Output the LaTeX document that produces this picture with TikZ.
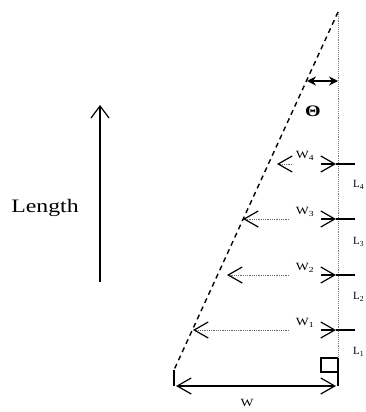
\documentclass[tikz,border=0pt]{standalone}
\usepackage{fontspec}
\setmainfont{Liberation Serif}
\usetikzlibrary{arrows.meta,calc,positioning}
\tikzstyle{wall} = [densely dotted, gray, line width=0.9pt]
\tikzstyle{slope} = [line width=1.4pt, dash pattern=on 5pt off 4pt]
\tikzstyle{barb} = [line width=1.2pt, -{Straight Barb[length=14pt,width=16pt]}]
\tikzstyle{wline} = [densely dotted, line width=0.8pt, gray!80!black, -{Straight Barb[length=14pt,width=16pt,black,line width=1.2pt]}]
\tikzstyle{tick} = [line width=1.1pt]
\tikzstyle{lbl} = [inner sep=0pt, font=\fontsize{11}{13}\selectfont]
\newcommand{\wide}[1]{\scalebox{1.25}[1]{#1}}

\begin{document}
\begin{tikzpicture}[x=1pt, y=-1pt]
      \useasboundingbox (0,0) rectangle (366,412);
      % frame of the blade
      \coordinate (top) at (338,12);
      \coordinate (sq) at (338,358);
      \coordinate (base) at (338,386);
      \coordinate (foot) at (174,370);
      \coordinate (corner) at (174,386);
      \draw[wall] (top) -- (sq);
      \draw[slope] (top) -- (foot);
      \draw[tick] (foot) -- (corner);
      \draw[tick] (sq) -- (base);
      \draw[tick] (sq) -- (321,358) -- (321,372) -- (338,372);
      % angle
      \coordinate (t1) at (307,81);
      \coordinate (t2) at (338,81);
      \draw[line width=1.8pt, {Stealth[length=9pt,width=9pt]}-{Stealth[length=9pt,width=9pt]}] (t1) -- (t2);
      \node (theta) at (313,111) {\fontsize{16}{18}\selectfont\wide{\textbf{Θ}}};
      % widths
      \node (w4) [lbl] at (305,156) {\wide{W\textsubscript{4}}};
      \node (w3) [lbl] at (305,212) {\wide{W\textsubscript{3}}};
      \node (w2) [lbl] at (305,268) {\wide{W\textsubscript{2}}};
      \node (w1) [lbl] at (305,323) {\wide{W\textsubscript{1}}};
      \coordinate (w4a) at (292,164); \coordinate (w4l) at (277,164);
      \coordinate (w3a) at (289,219); \coordinate (w3l) at (243,219);
      \coordinate (w2a) at (289,275); \coordinate (w2l) at (227,275);
      \coordinate (w1a) at (289,330); \coordinate (w1l) at (193,330);
      \coordinate (w4b) at (321,164); \coordinate (w4r) at (336,164);
      \coordinate (w3b) at (321,219); \coordinate (w3r) at (336,219);
      \coordinate (w2b) at (321,275); \coordinate (w2r) at (336,275);
      \coordinate (w1b) at (321,330); \coordinate (w1r) at (336,330);
      \draw[wline] (w4a) -- (w4l);
      \draw[wline] (w3a) -- (w3l);
      \draw[wline] (w2a) -- (w2l);
      \draw[wline] (w1a) -- (w1l);
      \draw[barb] (w4b) -- (w4r);
      \draw[barb] (w3b) -- (w3r);
      \draw[barb] (w2b) -- (w2r);
      \draw[barb] (w1b) -- (w1r);
      % length marks
      \draw[tick] (w4r) -- (355,164);
      \draw[tick] (w3r) -- (355,219);
      \draw[tick] (w2r) -- (355,275);
      \draw[tick] (w1r) -- (355,330);
      \node (l4) [lbl, anchor=west] at (353,185) {L\textsubscript{4}};
      \node (l3) [lbl, anchor=west] at (353,242) {L\textsubscript{3}};
      \node (l2) [lbl, anchor=west] at (353,297) {L\textsubscript{2}};
      \node (l1) [lbl, anchor=west] at (353,352) {L\textsubscript{1}};
      % base width
      \coordinate (wl) at (176,386);
      \coordinate (wr) at (336,386);
      \draw[line width=1.2pt, {Straight Barb[length=14pt,width=16pt]}-{Straight Barb[length=14pt,width=16pt]}] (wl) -- (wr);
      \node (w) [lbl] at (247,403) {\wide{W}};
      % length direction
      \coordinate (lo) at (100,282);
      \coordinate (hi) at (100,105);
      \draw[line width=1.2pt, -{Straight Barb[length=12pt,width=18pt]}] (lo) -- (hi);
      \node (len) at (45,208) {\fontsize{19}{22}\selectfont\wide{Length}};
\end{tikzpicture}
\end{document}
